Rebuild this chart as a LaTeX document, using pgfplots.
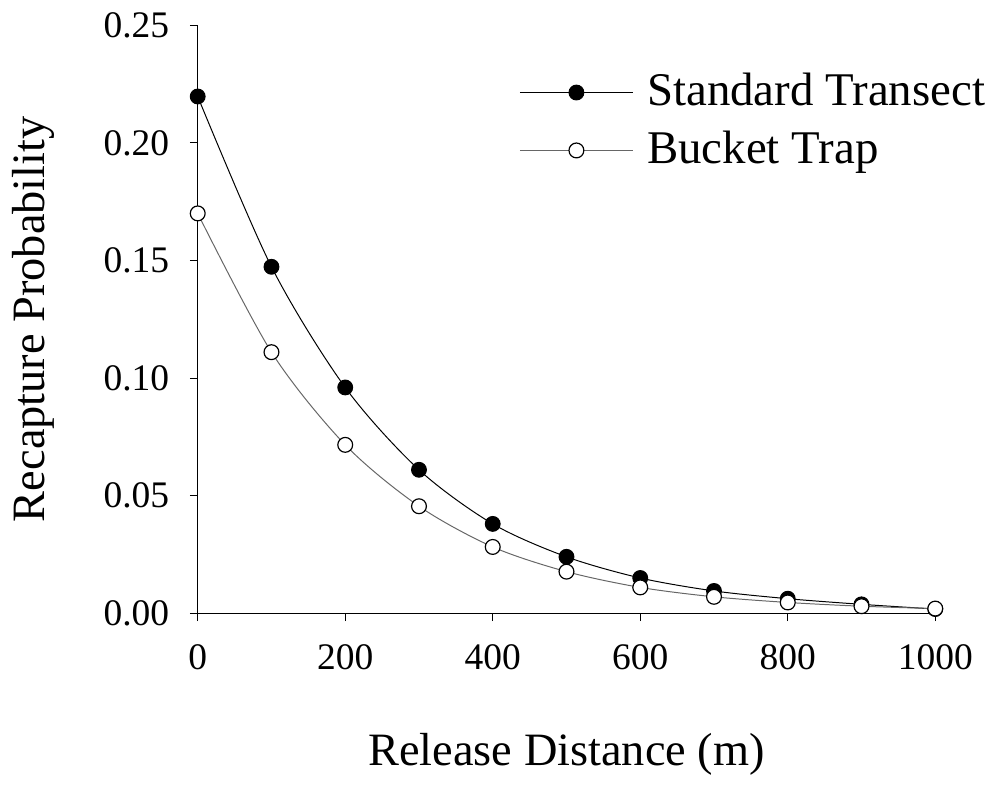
\documentclass[border=0pt]{standalone}
\usepackage{fontspec}
\setmainfont{Liberation Serif}
\usepackage{pgfplots}
\pgfplotsset{compat=1.18}

\begin{document}
\begin{tikzpicture}
\fontsize{38}{44}\selectfont
\begin{axis}[
    scale only axis,
    width=745bp, height=594bp,
    xmin=0, xmax=1000, ymin=0, ymax=0.25,
    axis lines*=left,
    axis line style={line width=1.2bp},
    tick align=outside,
    tick style={line width=1bp, black},
    major tick length=8bp,
    xtick={0,200,...,1000},
    ytick={0,0.05,...,0.25},
    /pgf/number format/assume math mode=true,
    x tick label style={/pgf/number format/1000 sep={}, yshift=-11bp},
    y tick label style={/pgf/number format/fixed, /pgf/number format/fixed zerofill,
        /pgf/number format/precision=2, xshift=-8bp},
    xlabel={Release Distance (m)},
    ylabel={Recapture Probability},
    label style={font=\fontsize{47}{54}\selectfont},
    xlabel style={yshift=-38bp},
    ylabel style={yshift=24bp},
    clip=false,
    legend style={draw=none, fill=none, at={(0.432,0.925)}, anchor=north west,
        font=\fontsize{47.5}{54}\selectfont, row sep=16bp,
        /tikz/every odd column/.append style={column sep=12bp}},
    legend cell align=left,
    legend image code/.code={
        \draw[mark repeat=2, mark phase=2] plot coordinates {(0bp,0bp) (57bp,0bp) (114bp,0bp)};},
]
% Standard Transect
\addplot[black, line width=1bp, smooth, mark=*, mark size=7.5bp,
    mark options={solid, fill=black}] coordinates {
    (0,0.2197) (100,0.1473) (200,0.0960) (300,0.0610) (400,0.0380)
    (500,0.0240) (600,0.0150) (700,0.0095) (800,0.0062) (900,0.0038) (1000,0.0018)
};
\addlegendentry{Standard Transect}
% Bucket Trap
\addplot[black!60, line width=1bp, smooth, mark=*, mark size=7.5bp,
    mark options={solid, fill=white, draw=black, line width=1.2bp}] coordinates {
    (0,0.1700) (100,0.1110) (200,0.0716) (300,0.0455) (400,0.0282)
    (500,0.0177) (600,0.0110) (700,0.0070) (800,0.0046) (900,0.0030) (1000,0.0020)
};
\addlegendentry{Bucket Trap}
\end{axis}
\end{tikzpicture}
\end{document}
